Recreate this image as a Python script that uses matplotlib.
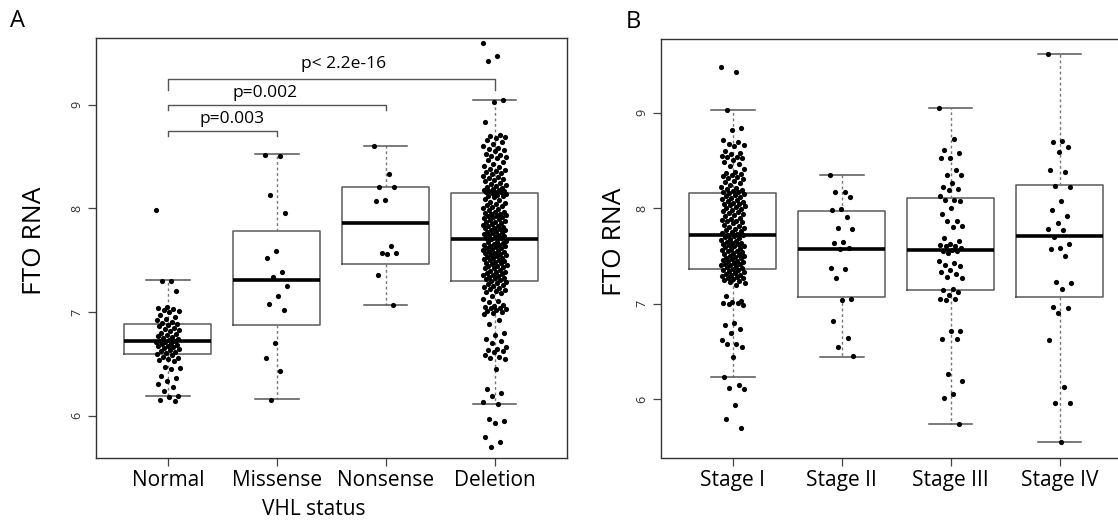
import matplotlib
matplotlib.use("Agg")
import matplotlib.pyplot as plt
import numpy as np

plt.rcParams['font.family'] = ['Open Sans', 'DejaVu Sans']

# ---- panel A: FTO RNA by VHL status ----
vhl_groups = ['Normal', 'Missense', 'Nonsense', 'Deletion']

normal = [7.98, 7.30, 7.30, 7.20, 7.05, 7.04, 7.03, 7.02, 7.01, 7.00, 6.97, 6.95,
          6.93, 6.92, 6.90, 6.89, 6.88, 6.87, 6.86, 6.85, 6.84, 6.83, 6.82, 6.80,
          6.79, 6.78, 6.77, 6.76, 6.75, 6.74, 6.73, 6.72, 6.72, 6.71, 6.71, 6.70,
          6.69, 6.68, 6.67, 6.67, 6.66, 6.65, 6.64, 6.63, 6.62, 6.61, 6.60, 6.59,
          6.58, 6.57, 6.56, 6.55, 6.54, 6.53, 6.47, 6.46, 6.45, 6.38, 6.36, 6.33,
          6.30, 6.28, 6.24, 6.19, 6.18, 6.15, 6.14]
missense = [8.52, 8.51, 8.13, 7.96, 7.59, 7.52, 7.39, 7.34, 7.25, 7.15, 7.08, 7.02,
            6.70, 6.56, 6.43, 6.15]
nonsense = [8.60, 8.33, 8.21, 8.21, 8.08, 8.07, 7.64, 7.57, 7.57, 7.56, 7.36, 7.07]
deletion = [9.60, 9.47, 9.42, 9.05, 9.03, 8.83, 8.71, 8.70, 8.69, 8.68, 8.66, 8.64,
            8.62, 8.60, 8.58, 8.57, 8.56, 8.55, 8.53, 8.52, 8.51, 8.50, 8.49, 8.47,
            8.45, 8.43, 8.41, 8.40, 8.38, 8.37, 8.36, 8.35, 8.34, 8.33, 8.31, 8.30,
            8.29, 8.28, 8.27, 8.26, 8.25, 8.24, 8.23, 8.22, 8.21, 8.20, 8.19, 8.18,
            8.18, 8.17, 8.17, 8.16, 8.16, 8.16, 8.15,
            8.14, 8.13, 8.12, 8.12, 8.11, 8.09, 8.08, 8.06, 8.05, 8.04, 8.03, 8.02,
            8.01, 8.00, 7.99, 7.98, 7.97, 7.97, 7.96, 7.95, 7.95, 7.94, 7.93, 7.93,
            7.92, 7.92, 7.91, 7.90, 7.89, 7.88, 7.87, 7.87, 7.86, 7.85, 7.84, 7.83,
            7.83, 7.82, 7.81, 7.81, 7.80, 7.79, 7.79, 7.78, 7.77, 7.76, 7.76, 7.75,
            7.74, 7.74, 7.73, 7.72, 7.71, 7.71, 7.70,
            7.69, 7.68, 7.68, 7.67, 7.66, 7.65, 7.65, 7.64, 7.64, 7.63, 7.62, 7.62,
            7.61, 7.60, 7.59, 7.58, 7.58, 7.57, 7.57, 7.56, 7.55, 7.55, 7.54, 7.53,
            7.52, 7.52, 7.51, 7.50, 7.50, 7.49, 7.48, 7.47, 7.47, 7.46, 7.45, 7.44,
            7.44, 7.43, 7.42, 7.42, 7.41, 7.40, 7.39, 7.39, 7.38, 7.37, 7.36, 7.36,
            7.35, 7.34, 7.33, 7.33, 7.32, 7.31, 7.30,
            7.29, 7.28, 7.27, 7.26, 7.25, 7.24, 7.23, 7.22, 7.21, 7.20, 7.19, 7.18,
            7.15, 7.13, 7.11, 7.10, 7.07, 7.06, 7.05, 7.04, 7.04, 7.03, 7.02, 7.01,
            7.00, 6.99, 6.98, 6.92, 6.88, 6.80, 6.78, 6.74, 6.72, 6.70, 6.66, 6.64,
            6.63, 6.62, 6.61, 6.58, 6.57, 6.56, 6.55, 6.45, 6.26, 6.22, 6.19, 6.13,
            6.11, 5.97, 5.95, 5.93, 5.79, 5.74, 5.70]

# box stats: whislo, q1, median, q3, whishi
vhl_box = [[6.19, 6.59, 6.715, 6.88, 7.31],
           [6.155, 6.87, 7.307, 7.784, 8.523],
           [7.07, 7.462, 7.857, 8.205, 8.60],
           [6.11, 7.297, 7.703, 8.147, 9.051]]

# significance brackets: (from group, to group, height, label, label x, label y)
brackets = [(1, 2, 8.75, 'p=0.003', 1.59, 8.86),
            (1, 3, 9.00, 'p=0.002', 1.89, 9.115),
            (1, 4, 9.245, 'p< 2.2e-16', 2.61, 9.39)]

# ---- panel B: FTO RNA by stage ----
stages = ['Stage I', 'Stage II', 'Stage III', 'Stage IV']

stage1 = [9.48, 9.42, 9.03, 8.84, 8.82, 8.71, 8.69, 8.67, 8.66, 8.65, 8.60, 8.58,
          8.57, 8.55, 8.54, 8.53, 8.52, 8.50, 8.48, 8.46, 8.44, 8.41, 8.38, 8.37,
          8.36, 8.35, 8.34, 8.33, 8.31, 8.30, 8.28, 8.27, 8.26, 8.24, 8.22, 8.21,
          8.20, 8.19, 8.18, 8.17, 8.17, 8.16,
          8.15, 8.14, 8.13, 8.12, 8.11, 8.10, 8.08, 8.07, 8.06, 8.05, 8.04, 8.04,
          8.03, 8.02, 8.01, 8.00, 7.99, 7.98, 7.97, 7.96, 7.95, 7.94, 7.93, 7.92,
          7.90, 7.89, 7.88, 7.87, 7.86, 7.85, 7.84, 7.82, 7.81, 7.80, 7.79, 7.78,
          7.77, 7.76, 7.75, 7.74, 7.73, 7.72, 7.72, 7.71,
          7.70, 7.69, 7.68, 7.67, 7.66, 7.65, 7.64, 7.63, 7.62, 7.62, 7.61, 7.60,
          7.60, 7.59, 7.58, 7.57, 7.56, 7.55, 7.55, 7.54, 7.53, 7.52, 7.51, 7.50,
          7.50, 7.49, 7.48, 7.48, 7.47, 7.46, 7.45, 7.45, 7.44, 7.43, 7.42, 7.41,
          7.40, 7.40, 7.39, 7.38, 7.37,
          7.36, 7.35, 7.35, 7.34, 7.33, 7.32, 7.31, 7.30, 7.30, 7.29, 7.28, 7.27,
          7.27, 7.26, 7.25, 7.24, 7.23, 7.22, 7.20, 7.08, 7.03, 7.02, 7.01, 7.01,
          7.00, 6.99, 6.80, 6.78, 6.73, 6.69, 6.62, 6.58, 6.58, 6.55, 6.44, 6.23,
          6.15, 6.12, 6.11, 5.94, 5.79, 5.70]
stage2 = [8.35, 8.17, 8.17, 8.12, 7.99, 7.98, 7.91, 7.79, 7.78, 7.65, 7.63, 7.58,
          7.57, 7.37, 7.36, 7.27, 7.05, 7.04, 6.82, 6.64, 6.55, 6.45]
stage3 = [9.05, 8.72, 8.61, 8.58, 8.52, 8.52, 8.40, 8.35, 8.35, 8.26, 8.22, 8.20,
          8.19, 8.13, 8.09, 8.09, 8.07, 8.00, 7.94, 7.87, 7.86, 7.81, 7.80, 7.69,
          7.66, 7.62, 7.61, 7.60, 7.60, 7.58, 7.56, 7.55, 7.55, 7.53, 7.45, 7.43,
          7.40, 7.39, 7.35, 7.33, 7.31, 7.28, 7.27, 7.15, 7.14, 7.12, 7.09, 7.05,
          7.05, 7.04, 6.71, 6.71, 6.63, 6.63, 6.26, 6.19, 6.05, 6.01, 5.745]
stage4 = [9.61, 8.70, 8.69, 8.64, 8.59, 8.40, 8.38, 8.23, 8.22, 8.07, 7.98, 7.92,
          7.84, 7.78, 7.77, 7.70, 7.62, 7.58, 7.57, 7.50, 7.23, 7.22, 7.15, 6.96,
          6.95, 6.90, 6.62, 6.13, 5.96, 5.96, 5.55]

stage_box = [[6.233, 7.362, 7.715, 8.161, 9.028],
             [6.446, 7.065, 7.568, 7.966, 8.350],
             [5.744, 7.141, 7.558, 8.103, 9.052],
             [5.548, 7.068, 7.708, 8.239, 9.615]]


def draw_panel(ax, names, groups, boxes, ylim, ylab_x):
    stats = [dict(whislo=b[0], q1=b[1], med=b[2], q3=b[3], whishi=b[4], label=n)
             for n, b in zip(names, boxes)]
    pos = np.arange(1, len(names) + 1)
    ax.bxp(stats, positions=pos, widths=0.8, capwidths=0.4, showfliers=False,
           boxprops=dict(color='#5a5a5a', lw=1.1),
           medianprops=dict(color='black', lw=2.6),
           whiskerprops=dict(color='#777777', lw=1.0, ls=(0, (2, 2))),
           capprops=dict(color='#555555', lw=1.1))
    for i, vals in enumerate(groups):
        n = len(vals)
        # fixed jitter pattern so points spread around the box centre
        jit = ((np.arange(n) * 0.618034) % 1 - 0.5) * 0.22
        ax.scatter(pos[i] + jit, vals, s=14, color='black', zorder=3, lw=0)
    ax.set_xlim(0.34, 4.66)
    ax.set_ylim(*ylim)
    ax.set_yticks([6, 7, 8, 9])
    ax.set_xticks(pos)
    ax.set_xticklabels(names, fontsize=15)
    ax.tick_params(axis='y', labelsize=9, length=6, width=0.9, color='#444444',
                   labelcolor='#333333', pad=3)
    ax.tick_params(axis='x', length=6, width=0.9, color='#444444', pad=3)
    for lab in ax.get_yticklabels():
        lab.set_rotation(90)
        lab.set_va('center')
    for sp in ax.spines.values():
        sp.set_color('#333333')
        sp.set_linewidth(1.0)
    ax.set_ylabel('FTO RNA', fontsize=19)
    ax.yaxis.set_label_coords(ylab_x, 0.515)


fig = plt.figure(figsize=(11.18, 5.25), dpi=100)
# panel B runs past the right edge of the figure, as in the original
axA = fig.add_axes([96 / 1118, 1 - 457.5 / 525, 470.5 / 1118, 420 / 525])
axB = fig.add_axes([661 / 1118, 1 - 457.5 / 525, 470.5 / 1118, 418.5 / 525])

draw_panel(axA, vhl_groups, [normal, missense, nonsense, deletion], vhl_box,
           (5.595, 9.65), (47 - 96) / 470.5)
draw_panel(axB, stages, [stage1, stage2, stage3, stage4], stage_box,
           (5.39, 9.77), (627 - 661) / 470.5)

axA.set_xlabel('VHL status', fontsize=15)
axA.xaxis.set_label_coords((314 - 96) / 470.5, -0.098)

for x0, x1, h, label, tx, ty in brackets:
    drop = 0.1 if x1 == 4 else 0.05
    axA.plot([x0, x0, x1, x1], [h - drop, h, h, h - drop], color='#555555', lw=1.0)
    axA.text(tx, ty, label, ha='center', va='center', fontsize=12.5)

fig.text(18 / 1118, 1 - 21 / 525, 'A', fontsize=17, ha='center', va='center')
fig.text(633 / 1118, 1 - 22 / 525, 'B', fontsize=17, ha='center', va='center')

fig.savefig('out.png', dpi=100)
